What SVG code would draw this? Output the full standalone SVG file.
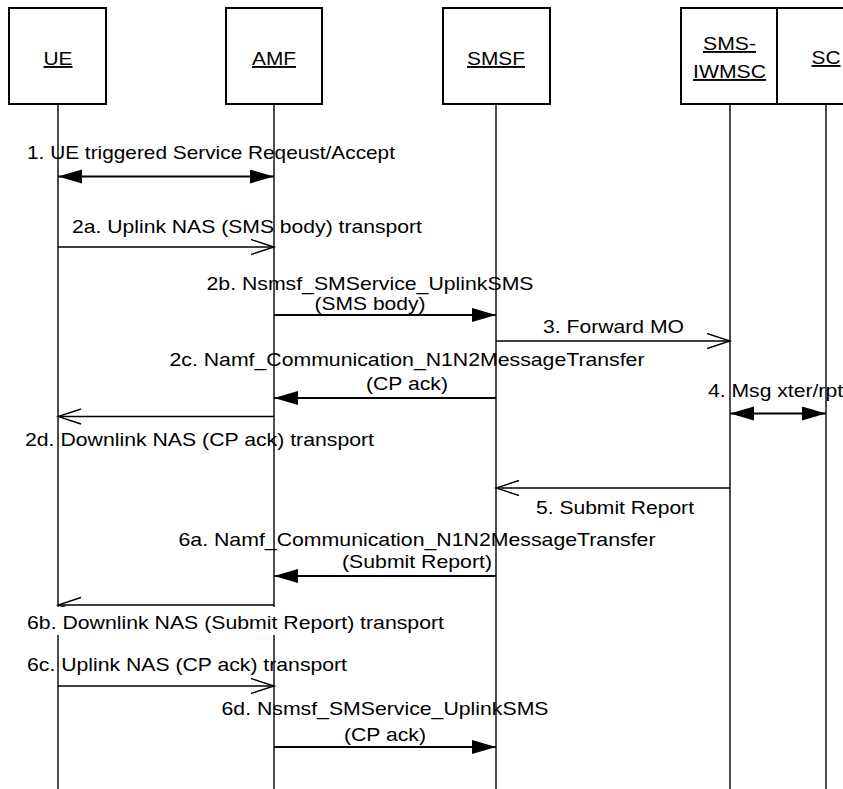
<svg xmlns="http://www.w3.org/2000/svg" width="843" height="789" viewBox="0 0 843 789">
<style>
text{font-family:"Liberation Sans",Arial,sans-serif;font-size:19px;fill:#000}
.u{text-decoration:underline;text-anchor:middle}
.m{text-anchor:middle}
.box{fill:#fff;stroke:#000;stroke-width:2}
.life{stroke:#000;stroke-width:1.4}
.open{stroke:#000;stroke-width:1.4;fill:none;marker-end:url(#oa)}
.fill{stroke:#000;stroke-width:2;fill:none;marker-end:url(#fa)}
.both{stroke:#000;stroke-width:2;fill:none;marker-end:url(#fa);marker-start:url(#fa)}
</style>
<defs>
<marker id="fa" markerUnits="userSpaceOnUse" markerWidth="26" markerHeight="16" refX="24" refY="7" orient="auto-start-reverse"><path d="M0,0 L24,7 L0,14 z" fill="#000"/></marker>
<marker id="oa" markerUnits="userSpaceOnUse" markerWidth="26" markerHeight="18" refX="23.5" refY="8" orient="auto"><path d="M0.5,0.5 L23.5,8 L0.5,15.5" fill="none" stroke="#000" stroke-width="1.4"/></marker>
</defs>
<rect width="843" height="789" fill="#fff"/>
<g id="UE">
<line class="life" x1="58" y1="104" x2="58" y2="789"/>
<rect class="box" x="9" y="8" width="97" height="96"/>
<text class="u" x="58" y="65" textLength="29" lengthAdjust="spacingAndGlyphs">UE</text>
</g>
<g id="AMF">
<line class="life" x1="274" y1="104" x2="274" y2="789"/>
<rect class="box" x="226" y="8" width="96" height="96"/>
<text class="u" x="274" y="65" textLength="44" lengthAdjust="spacingAndGlyphs">AMF</text>
</g>
<g id="SMSF">
<line class="life" x1="496" y1="104" x2="496" y2="789"/>
<rect class="box" x="443" y="8" width="107" height="96"/>
<text class="u" x="496" y="65" textLength="58" lengthAdjust="spacingAndGlyphs">SMSF</text>
</g>
<g id="SMS-IWMSC">
<line class="life" x1="730" y1="104" x2="730" y2="789"/>
<rect class="box" x="681" y="8" width="96" height="96"/>
<text class="u" x="729.5" y="50" textLength="53" lengthAdjust="spacingAndGlyphs">SMS-</text>
<text class="u" x="729.5" y="78" textLength="73" lengthAdjust="spacingAndGlyphs">IWMSC</text>
</g>
<g id="SC">
<line class="life" x1="826" y1="104" x2="826" y2="789"/>
<rect class="box" x="777" y="8" width="80" height="96"/>
<text class="u" x="826" y="64" textLength="29" lengthAdjust="spacingAndGlyphs">SC</text>
</g>
<g id="connectors">
<line class="both" x1="58" y1="176.5" x2="274" y2="176.5"/>
<line class="open" x1="58" y1="247" x2="274" y2="247"/>
<line class="fill" x1="274" y1="315" x2="496" y2="315"/>
<line class="open" x1="496" y1="341" x2="730" y2="341"/>
<line class="fill" x1="496" y1="398" x2="274" y2="398"/>
<line class="both" x1="730" y1="413.5" x2="826" y2="413.5"/>
<line class="open" x1="274" y1="416.5" x2="58" y2="416.5"/>
<line class="open" x1="730" y1="488" x2="496" y2="488"/>
<line class="fill" x1="496" y1="576" x2="274" y2="576"/>
<line class="open" x1="274" y1="605" x2="58" y2="605"/>
<line class="open" x1="58" y1="686" x2="274" y2="686"/>
<line class="fill" x1="274" y1="747" x2="496" y2="747"/>
</g>
<g id="labels">
<text x="27" y="159" textLength="368" lengthAdjust="spacingAndGlyphs">1. UE triggered Service Reqeust/Accept</text>
<text x="72" y="233" textLength="350" lengthAdjust="spacingAndGlyphs">2a. Uplink NAS (SMS body) transport</text>
<text class="m" x="370" y="290" textLength="327" lengthAdjust="spacingAndGlyphs">2b. Nsmsf_SMService_UplinkSMS</text>
<text class="m" x="370" y="310" textLength="111" lengthAdjust="spacingAndGlyphs">(SMS body)</text>
<text x="543" y="333" textLength="141" lengthAdjust="spacingAndGlyphs">3. Forward MO</text>
<text class="m" x="407" y="366" textLength="475" lengthAdjust="spacingAndGlyphs">2c. Namf_Communication_N1N2MessageTransfer</text>
<text class="m" x="407" y="390" textLength="82" lengthAdjust="spacingAndGlyphs">(CP ack)</text>
<text x="708" y="397" textLength="135" lengthAdjust="spacingAndGlyphs">4. Msg xter/rpt</text>
<text x="25" y="446" textLength="349" lengthAdjust="spacingAndGlyphs">2d. Downlink NAS (CP ack) transport</text>
<text x="536" y="514" textLength="158" lengthAdjust="spacingAndGlyphs">5. Submit Report</text>
<text class="m" x="417" y="546" textLength="477" lengthAdjust="spacingAndGlyphs">6a. Namf_Communication_N1N2MessageTransfer</text>
<text class="m" x="417" y="568" textLength="150" lengthAdjust="spacingAndGlyphs">(Submit Report)</text>
<rect x="24" y="607" width="424" height="28" fill="#fff"/>
<text x="27" y="629" textLength="417" lengthAdjust="spacingAndGlyphs">6b. Downlink NAS (Submit Report) transport</text>
<text x="27" y="671" textLength="320" lengthAdjust="spacingAndGlyphs">6c. Uplink NAS (CP ack) transport</text>
<text class="m" x="385" y="715" textLength="327" lengthAdjust="spacingAndGlyphs">6d. Nsmsf_SMService_UplinkSMS</text>
<text class="m" x="385" y="741" textLength="82" lengthAdjust="spacingAndGlyphs">(CP ack)</text>
</g>
</svg>
